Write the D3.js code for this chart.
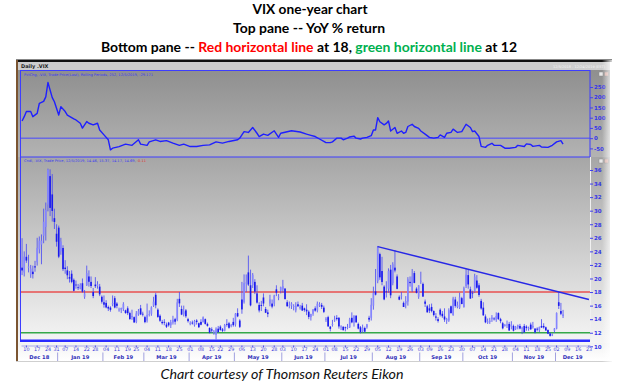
<!DOCTYPE html>
<html>
<head>
<meta charset="utf-8">
<script src="https://cdn.jsdelivr.net/npm/d3@7"></script>
<style>
  body { margin: 0; background: #fff; }
  svg { display: block; }
</style>
</head>
<body>
<script>
// market holidays inside the range (trading-day axis, no gaps)
const holidays = ['2018-12-25', '2019-01-01', '2019-01-21', '2019-02-18', '2019-04-19',
  '2019-05-27', '2019-07-04', '2019-09-02', '2019-11-28'];

// daily candles [open, high, low, close], from 2018-12-06
const ohlcDec18 = [[21.6,25.94,20.5,21.19],[20.9,24.0,20.3,23.23],[23.2,25.1,22.3,22.64],[21.6,23.5,20.9,21.76],
  [20.6,22.0,20.1,21.46],[21.0,21.9,20.0,20.65],[21.8,22.6,21.0,21.63],[22.4,26.0,21.9,24.52],[24.3,26.2,23.7,25.58],
  [25.0,26.5,22.1,25.58],[26.3,30.3,25.2,28.38],[27.6,31.2,25.6,30.11],[30.9,36.2,29.9,36.07],[35.1,36.1,29.2,30.41],
  [32.4,35.4,28.4,29.96],[28.9,30.3,27.3,28.34],[26.6,28.0,24.7,25.42]];
const ohlcJan19 = [[27.5,27.8,23.0,23.22],[24.0,26.0,23.5,25.45],[24.5,24.9,21.1,21.38],[21.6,22.7,20.7,21.40],
  [21.2,21.8,19.9,20.47],[20.2,21.1,19.4,19.98],[20.7,21.2,19.3,19.50],[19.8,20.0,18.1,18.19],[19.1,19.7,18.5,19.07],
  [18.7,19.2,18.3,18.60],[18.5,19.3,18.4,19.04],[19.3,20.0,17.9,18.06],[17.3,18.3,17.0,17.80],[19.0,21.9,18.9,20.80],
  [20.3,21.2,18.8,19.52],[19.5,20.3,18.6,18.89],[18.0,18.6,17.1,17.42],[19.1,20.2,18.6,18.87],[18.9,19.6,18.5,19.13],
  [18.8,19.2,17.4,17.66],[17.3,17.5,16.3,16.57]];
const ohlcFeb19 = [[16.5,17.5,15.7,16.14],[16.4,16.8,15.6,15.73],[15.8,16.0,15.2,15.57],[15.7,15.9,15.1,15.38],
  [16.2,17.5,15.9,16.37],[17.1,17.4,15.6,15.72],[16.3,16.5,15.6,15.97],[15.3,15.7,15.1,15.43],[15.4,15.7,14.9,15.65],
  [15.5,16.5,15.2,16.22],[15.3,15.4,14.8,14.91],[15.6,15.9,14.6,14.88],[14.9,15.1,13.9,14.02],[14.3,15.4,13.9,14.46],
  [14.3,14.4,13.5,13.51],[13.6,15.2,13.4,14.85],[14.7,15.5,14.5,15.17],[15.6,16.1,14.6,14.70],[14.8,15.1,14.4,14.78]];
const ohlcMar19 = [[14.3,14.5,13.4,13.57],[13.8,16.3,13.5,14.63],[14.7,15.3,14.4,14.74],[14.8,15.9,14.5,15.74],
  [16.0,17.3,15.8,16.59],[17.6,17.9,15.6,16.05],[15.4,15.6,14.2,14.33],[14.5,14.7,13.6,13.77],[13.6,13.9,13.2,13.41],
  [13.6,14.0,13.1,13.50],[13.2,13.5,12.7,12.88],[13.5,13.6,12.9,13.10],[13.1,13.9,12.7,13.56],[13.5,14.5,13.2,13.91],
  [14.0,14.2,13.2,13.63],[13.9,17.0,13.7,16.48],[17.0,18.0,15.8,16.33],[15.5,16.0,14.6,14.68],[14.7,16.0,14.4,15.15],
  [15.3,15.5,14.2,14.43],[14.0,14.2,13.5,13.71]];
const ohlcApr19 = [[13.4,13.7,13.1,13.40],[13.5,13.8,13.2,13.36],[13.1,13.9,12.9,13.74],[13.8,14.0,13.2,13.58],
  [13.4,13.5,12.7,12.82],[13.6,14.0,13.1,13.18],[13.6,14.4,13.5,14.28],[14.0,14.1,13.2,13.30],[13.3,13.5,12.9,13.02],
  [12.7,12.8,11.9,12.01],[12.5,12.8,12.0,12.32],[12.0,12.4,11.7,12.18],[11.7,12.8,11.03,12.60],[12.6,13.0,12.0,12.09],
  [12.9,13.1,12.3,12.42],[12.5,12.7,12.1,12.28],[12.3,13.3,12.2,13.14],[13.3,14.0,12.9,13.25],[13.4,13.6,12.6,12.73],
  [13.0,13.3,12.8,13.11],[13.6,14.2,12.9,13.12]];
const ohlcMay19 = [[13.2,14.9,12.9,14.80],[14.9,15.6,14.3,14.42],[13.8,14.0,12.7,12.87],[16.9,19.5,14.8,15.44],
  [16.5,20.6,16.3,19.32],[19.4,20.6,18.0,19.40],[20.9,23.38,18.9,19.10],[19.0,21.3,15.9,16.04],[19.0,20.8,18.6,20.55],
  [19.5,19.9,17.7,18.06],[17.8,19.0,16.3,16.44],[16.1,16.5,15.0,15.29],[16.1,16.7,15.2,15.96],[17.2,17.8,15.9,16.31],
  [15.5,15.8,14.9,14.95],[15.0,15.4,14.3,14.75],[16.3,17.6,15.9,16.92],[16.3,16.9,15.6,15.85],[16.3,17.6,15.9,17.50],
  [18.4,19.0,17.4,17.90],[17.3,17.7,16.8,17.30],[18.2,18.8,17.8,18.71]];
const ohlcJun19 = [[18.4,19.8,17.9,18.86],[18.5,18.6,16.9,16.97],[16.5,16.8,15.8,15.93],[16.0,16.6,15.6,16.09],
  [16.0,16.5,15.5,16.30],[15.9,16.2,15.3,15.94],[15.3,16.5,15.0,15.99],[16.2,16.6,15.8,15.91],[15.6,16.1,15.4,15.82],
  [16.0,16.4,15.2,15.28],[15.6,15.7,15.1,15.35],[15.4,16.2,14.6,15.15],[15.1,15.3,14.0,14.33],[14.3,14.8,13.8,14.75],
  [14.8,15.5,14.5,15.40],[15.6,15.9,15.1,15.26],[15.3,16.6,15.0,16.28],[16.0,16.5,15.8,16.21],[16.1,16.4,15.5,15.82],
  [15.7,16.0,14.9,15.08]];
const ohlcJul19 = [[13.9,14.3,13.6,14.06],[14.3,14.5,12.9,12.93],[12.9,13.0,12.2,12.57],[13.2,13.9,12.9,13.28],
  [13.9,14.5,13.6,13.96],[14.2,14.6,13.8,14.02],[14.2,14.3,12.6,12.93],[12.8,13.1,12.4,12.93],[12.9,12.9,12.3,12.39],
  [12.8,12.9,12.2,12.68],[12.8,13.3,12.5,12.86],[12.8,14.2,12.7,13.97],[14.2,15.0,13.4,13.53],[13.5,14.6,12.9,14.45],
  [14.5,14.6,13.5,13.53],[13.3,13.5,12.5,12.61],[12.8,13.0,11.9,12.07],[12.2,13.2,12.0,12.74],[12.7,12.9,12.0,12.16],
  [12.8,13.3,12.6,13.24],[14.2,14.5,13.6,13.94],[14.2,17.1,13.8,16.12]];
const ohlcAug19 = [[16.0,18.8,15.4,17.87],[18.1,21.4,17.5,17.61],[19.6,24.8,19.3,24.59],[23.6,23.8,19.8,20.17],
  [21.1,23.2,19.0,19.49],[18.8,19.0,16.8,16.91],[18.1,19.6,17.2,17.97],[18.5,21.5,17.9,21.09],[21.3,22.0,17.1,17.52],
  [19.3,22.4,19.0,22.10],[21.6,24.2,20.9,21.18],[20.3,20.6,18.4,18.47],[17.3,17.5,16.8,16.88],[17.4,18.0,16.9,17.50],
  [16.4,16.6,15.8,15.80],[16.3,17.4,15.6,16.68],[16.6,20.2,16.0,19.87],[19.5,20.3,18.8,19.32],[18.2,21.4,18.0,20.31],
  [20.8,21.1,19.3,19.35],[18.5,18.7,17.8,17.88],[17.3,19.0,17.0,18.98]];
const ohlcSep19 = [[19.6,21.0,19.2,19.66],[19.2,19.4,17.3,17.33],[16.6,16.9,15.8,16.27],[15.9,16.1,15.0,15.00],
  [15.6,16.2,14.9,15.27],[15.8,16.3,15.0,15.20],[15.2,15.3,14.4,14.61],[14.4,14.9,13.8,14.22],[14.0,14.3,13.5,13.74],
  [15.4,15.6,14.4,14.67],[14.8,15.2,14.2,14.44],[14.4,15.6,13.6,13.95],[13.8,14.2,13.3,14.05],[13.8,15.6,13.6,15.32],
  [15.9,16.0,14.8,14.91],[14.6,17.3,14.5,17.05],[16.9,17.3,15.7,15.96],[15.8,16.6,15.6,16.07],[15.7,17.9,15.5,17.22],
  [17.1,17.3,16.2,16.24]];
const ohlcOct19 = [[15.8,18.8,15.7,18.56],[18.9,21.46,18.6,20.56],[20.5,21.3,18.5,19.12],[18.4,18.8,17.0,17.04],
  [17.9,18.2,17.1,17.86],[18.1,20.7,17.9,20.28],[19.7,20.5,18.5,18.64],[19.0,19.3,17.3,17.57],[16.7,17.0,15.4,15.58],
  [15.7,16.5,14.5,14.57],[14.4,14.7,13.4,13.54],[13.5,14.1,13.3,13.68],[13.6,14.2,13.3,13.79],[14.0,14.6,13.6,14.25],
  [14.1,14.3,13.8,14.00],[13.9,15.0,13.6,14.46],[14.9,15.0,13.9,14.01],[14.0,14.2,13.4,13.71],[13.4,13.6,12.5,12.65],
  [13.0,13.3,12.9,13.11],[13.2,13.8,12.7,13.20],[13.3,13.6,12.3,12.33],[12.9,13.7,12.5,13.22]];
const ohlcNov19 = [[13.0,13.2,12.2,12.30],[12.6,13.0,12.4,12.83],[12.8,13.2,12.5,13.10],[13.0,13.3,12.5,12.62],
  [12.6,12.9,11.8,12.73],[13.0,13.3,12.0,12.07],[12.9,13.1,12.3,12.69],[12.6,12.9,12.3,12.68],[13.2,13.5,12.4,12.52],
  [12.8,13.6,12.6,13.00],[12.6,12.7,11.9,12.05],[12.6,12.8,12.2,12.46],[12.4,12.9,12.1,12.86],[13.0,14.0,12.7,12.78],
  [13.0,13.4,12.6,12.78],[12.8,12.9,12.3,12.34],[12.4,12.5,11.8,11.87],[11.9,12.0,11.43,11.54],[11.6,11.9,11.5,11.75],
  [12.3,12.7,12.0,12.62]];
const ohlcDec19 = [[12.6,15.0,12.5,14.91],[16.5,17.99,15.5,15.96],[15.2,16.4,14.6,14.80],[14.46,15.37,14.17,14.69]];

// top pane: YoY % change (252 periods)
const yoyPart1 = [['2018-12-06',84],['2018-12-07',105],['2018-12-10',130],['2018-12-12',130],['2018-12-13',105],
  ['2018-12-17',121],['2018-12-18',170],['2018-12-20',180],['2018-12-21',202],['2018-12-24',272],['2018-12-27',198],
  ['2018-12-28',178],['2019-01-02',113],['2019-01-03',154],['2019-01-07',130],['2019-01-08',113],['2019-01-11',94],
  ['2019-01-14',89],['2019-01-16',73],['2019-01-17',49],['2019-01-22',81],['2019-01-23',73],['2019-01-25',65],
  ['2019-01-29',73],['2019-01-30',40],['2019-02-01',16],['2019-02-05',-8],['2019-02-06',-57],['2019-02-07',-49],
  ['2019-02-12',-41],['2019-02-15',-29],['2019-02-21',-35],['2019-02-26',-8],['2019-02-27',-29],['2019-03-04',-35],
  ['2019-03-05',-18],['2019-03-08',-8],['2019-03-12',-16],['2019-03-15',-12],['2019-03-20',-24],['2019-03-25',-35],
  ['2019-03-27',-29],['2019-04-01',-41],['2019-04-04',-41],['2019-04-09',-35],['2019-04-12',-33],['2019-04-17',-18],
  ['2019-04-23',-24],['2019-04-26',-16],['2019-05-02',-8],['2019-05-03',0],['2019-05-07',32],['2019-05-09',28],
  ['2019-05-13',52],['2019-05-15',24],['2019-05-16',8],['2019-05-20',20],['2019-05-22',14],['2019-05-28',36],
  ['2019-05-30',4],['2019-05-31',24],['2019-06-07',36],['2019-06-13',30],['2019-06-18',20],['2019-06-20',14],
  ['2019-06-24',8],['2019-06-26',-4],['2019-06-28',-16]];
const yoyPart2 = [['2019-07-01',-22],['2019-07-03',-22],['2019-07-05',-18],['2019-07-09',0],['2019-07-11',0],
  ['2019-07-12',-8],['2019-07-16',0],['2019-07-17',6],['2019-07-19',10],['2019-07-22',0],['2019-07-24',-4],
  ['2019-07-25',0],['2019-07-29',4],['2019-07-31',12],['2019-08-01',40],['2019-08-02',40],['2019-08-05',100],
  ['2019-08-06',80],['2019-08-08',65],['2019-08-09',72],['2019-08-12',84],['2019-08-13',35],['2019-08-15',52],
  ['2019-08-16',24],['2019-08-20',35],['2019-08-21',24],['2019-08-22',28],['2019-08-23',57],['2019-08-27',68],
  ['2019-08-28',57],['2019-08-30',48],['2019-09-03',35],['2019-09-05',20],['2019-09-09',4],['2019-09-11',0],
  ['2019-09-13',4],['2019-09-16',16],['2019-09-18',4],['2019-09-19',24],['2019-09-23',28],['2019-09-24',44],
  ['2019-09-26',28],['2019-09-30',32],['2019-10-02',68],['2019-10-04',52],['2019-10-07',32],['2019-10-08',35],
  ['2019-10-10',8],['2019-10-11',-40],['2019-10-15',-45],['2019-10-16',-35],['2019-10-18',-25],['2019-10-21',-35],
  ['2019-10-24',-35],['2019-10-28',-49],['2019-10-30',-49],['2019-11-04',-45],['2019-11-05',-35],['2019-11-08',-41],
  ['2019-11-11',-28],['2019-11-13',-31],['2019-11-14',-40],['2019-11-19',-35],['2019-11-20',-43],['2019-11-25',-45],
  ['2019-11-27',-35],['2019-12-02',-18],['2019-12-04',-12],['2019-12-05',-29]];

const trendLine = [['2019-08-05', 24.7], ['2019-12-23', 16.9]];
const redLevel = 18;
const greenLevel = 12;
const topTicks = [-50, 0, 50, 100, 150, 200, 250];
const bottomTicks = [10, 12, 14, 16, 18, 20, 22, 24, 26, 28, 30, 32, 34, 36];

const topLabel = 'PctChg, .VIX, Trade Price(Last), Rolling Periods, 252, 12/5/2019, -29.171';
const bottomLabel = 'Cndl, .VIX, Trade Price, 12/5/2019, 14.46, 15.37, 14.17, 14.69, ';
const bottomChange = '-0.11';

// trading days on the axis
const fmt = d3.utcFormat('%Y-%m-%d');
const days = d3.utcDay.range(new Date(Date.UTC(2018, 11, 6)), new Date(Date.UTC(2019, 11, 24)))
  .filter(d => d.getUTCDay() !== 0 && d.getUTCDay() !== 6 && !holidays.includes(fmt(d)))
  .map(fmt);

const candles = [].concat(ohlcDec18, ohlcJan19, ohlcFeb19, ohlcMar19, ohlcApr19, ohlcMay19, ohlcJun19,
  ohlcJul19, ohlcAug19, ohlcSep19, ohlcOct19, ohlcNov19, ohlcDec19)
  .map((d, i) => ({date: days[i], o: d[0], h: d[1], l: d[2], c: d[3]}));
const yoy = yoyPart1.concat(yoyPart2).map(d => ({date: d[0], v: d[1]}));

const svg = d3.select(document.body).append('svg')
  .attr('width', 620).attr('height', 390)
  .style('font-family', 'Lato, "DejaVu Sans", sans-serif');

const defs = svg.append('defs');
function grad(id, c1, c2, vertical) {
  const g = defs.append('linearGradient').attr('id', id)
    .attr('x1', 0).attr('y1', 0).attr('x2', vertical ? 0 : 1).attr('y2', vertical ? 1 : 0);
  g.append('stop').attr('offset', '0%').attr('stop-color', c1[0]).attr('stop-opacity', c1[1]);
  g.append('stop').attr('offset', '100%').attr('stop-color', c2[0]).attr('stop-opacity', c2[1]);
}
grad('gTop', ['#8f8f8f', 1], ['#b3b3b3', 1], true);
grad('gBot', ['#a6a6a6', 1], ['#f5f5f5', 1], true);
grad('gAxis', ['#f2f2f2', 1], ['#ffffff', 1], true);
grad('gFade', ['#ffffff', 0], ['#ffffff', 1], false);

defs.append('clipPath').attr('id', 'clipTop').append('rect')
  .attr('x', 21).attr('y', 71).attr('width', 569).attr('height', 85);
defs.append('clipPath').attr('id', 'clipBot').append('rect')
  .attr('x', 21).attr('y', 158).attr('width', 569).attr('height', 182);

// titles
const titles = svg.append('g').attr('text-anchor', 'middle').attr('font-weight', 'bold').attr('font-size', 13);
titles.append('text').attr('x', 310).attr('y', 14).attr('textLength', 115)
  .attr('lengthAdjust', 'spacingAndGlyphs').text('VIX one-year chart');
titles.append('text').attr('x', 309).attr('y', 33).attr('textLength', 152)
  .attr('lengthAdjust', 'spacingAndGlyphs').text('Top pane -- YoY % return');
const t3 = titles.append('text').attr('x', 309).attr('y', 52).attr('textLength', 416)
  .attr('lengthAdjust', 'spacingAndGlyphs');
t3.append('tspan').text('Bottom pane -- ');
t3.append('tspan').attr('fill', '#ff0000').text('Red horizontal line');
t3.append('tspan').text(' at 18, ');
t3.append('tspan').attr('fill', '#00b050').text('green horizontal line');
t3.append('tspan').text(' at 12');

// screenshot frame and backgrounds
svg.append('rect').attr('x', 18).attr('y', 62).attr('width', 592).attr('height', 8).attr('fill', '#cdcdcd');
svg.append('rect').attr('x', 18).attr('y', 70).attr('width', 592).attr('height', 87).attr('fill', 'url(#gTop)');
svg.append('rect').attr('x', 18).attr('y', 157).attr('width', 592).attr('height', 186).attr('fill', 'url(#gBot)');
svg.append('rect').attr('x', 18).attr('y', 343).attr('width', 592).attr('height', 18).attr('fill', 'url(#gAxis)');
svg.append('rect').attr('x', 16).attr('y', 59.5).attr('width', 596).attr('height', 2.5).attr('fill', '#111');
svg.append('rect').attr('x', 16).attr('y', 60).attr('width', 2).attr('height', 301).attr('fill', '#7b5532');
svg.append('line').attr('x1', 16).attr('x2', 612).attr('y1', 361.5).attr('y2', 361.5)
  .attr('stroke', '#cfcfcf');

svg.append('text').attr('x', 21).attr('y', 68).attr('font-size', 5).attr('font-weight', 'bold')
  .attr('font-family', '"DejaVu Sans"').attr('fill', '#222').text('Daily .VIX');
svg.append('text').attr('x', 553).attr('y', 68).attr('font-size', 3.5)
  .attr('font-family', '"DejaVu Sans"').attr('fill', '#f4f4f4').text('12/5/2018 - 12/24/2019 (EST)');

// scales
const x = d3.scaleBand().domain(days).range([21, 590]);
const xc = d => x(d) + x.bandwidth() / 2;
const yTop = d3.scaleLinear().domain([-50, 250]).range([148.4, 87]);
const yBot = d3.scaleLinear().domain([10, 36]).range([346.3, 170]);

// pane borders
svg.append('rect').attr('x', 20.5).attr('y', 70.5).attr('width', 569.5).attr('height', 86.5)
  .attr('fill', 'none').attr('stroke', '#3d3dff');
svg.append('line').attr('x1', 20.5).attr('x2', 20.5).attr('y1', 157).attr('y2', 341)
  .attr('stroke', '#3d3dff');
svg.append('line').attr('x1', 590.5).attr('x2', 590.5).attr('y1', 157).attr('y2', 341)
  .attr('stroke', '#f0f0f0');

// top pane
svg.append('text').attr('x', 24).attr('y', 75.5).attr('font-size', 3.6).attr('font-family', '"DejaVu Sans"')
  .attr('fill', '#3a3af0').text(topLabel);
const topG = svg.append('g').attr('clip-path', 'url(#clipTop)');
topG.append('line').attr('x1', 21).attr('x2', 590).attr('y1', yTop(0)).attr('y2', yTop(0))
  .attr('stroke', '#4646ff').attr('stroke-width', 1);
topG.append('path').datum(yoy.filter(d => x(d.date) !== undefined))
  .attr('fill', 'none').attr('stroke', '#1f1fff').attr('stroke-width', 1.4).attr('stroke-linejoin', 'round')
  .attr('d', d3.line().x(d => xc(d.date)).y(d => yTop(d.v)));

const gyTop = svg.append('g').attr('transform', 'translate(590,0)')
  .call(d3.axisRight(yTop).tickValues(topTicks).tickSize(3).tickPadding(1).tickFormat(d => String(d)));
gyTop.select('.domain').remove();

// bottom pane label, the change value in red
const lab = svg.append('text').attr('x', 24).attr('y', 161.5).attr('font-size', 3.6)
  .attr('font-family', '"DejaVu Sans"').attr('fill', '#3a3af0');
lab.append('tspan').text(bottomLabel);
lab.append('tspan').attr('fill', '#e03030').text(bottomChange);

const botG = svg.append('g').attr('clip-path', 'url(#clipBot)');
botG.append('line').attr('x1', 21).attr('x2', 590).attr('y1', yBot(redLevel)).attr('y2', yBot(redLevel))
  .attr('stroke', '#e85050').attr('stroke-width', 1.5);
botG.append('line').attr('x1', 21).attr('x2', 590).attr('y1', yBot(greenLevel)).attr('y2', yBot(greenLevel))
  .attr('stroke', '#36a84a').attr('stroke-width', 1.5);

const cg = botG.append('g').selectAll('g').data(candles.filter(d => d.date)).enter().append('g');
cg.append('line')
  .attr('x1', d => xc(d.date)).attr('x2', d => xc(d.date))
  .attr('y1', d => yBot(d.h)).attr('y2', d => yBot(d.l))
  .attr('stroke', '#4545f5').attr('stroke-width', 0.8);
cg.append('rect')
  .attr('x', d => xc(d.date) - x.bandwidth() * 0.38)
  .attr('width', x.bandwidth() * 0.76)
  .attr('y', d => yBot(Math.max(d.o, d.c)))
  .attr('height', d => Math.max(0.8, Math.abs(yBot(d.o) - yBot(d.c))))
  .attr('fill', d => d.c >= d.o ? '#8585ff' : '#1a1aee');

botG.append('path').datum(trendLine)
  .attr('fill', 'none').attr('stroke', '#2727e6').attr('stroke-width', 1.5)
  .attr('d', d3.line().x(d => xc(d[0])).y(d => yBot(d[1])));

// thick bottom rule of the price pane
svg.append('line').attr('x1', 20).attr('x2', 590).attr('y1', 340.8).attr('y2', 340.8)
  .attr('stroke', '#2a2aff').attr('stroke-width', 2.6);

const gyBot = svg.append('g').attr('transform', 'translate(590,0)')
  .call(d3.axisRight(yBot).tickValues(bottomTicks).tickSize(3).tickPadding(1).tickFormat(d => String(d)));
gyBot.select('.domain').remove();

[gyTop, gyBot].forEach(g => {
  g.selectAll('.tick line').attr('stroke', '#4040f0');
  g.selectAll('text').attr('fill', '#3636e6').attr('font-size', 5.5).attr('font-weight', 'bold')
    .attr('font-family', '"DejaVu Sans"');
});

// x axis: first trading day of each week, months underneath
const wk = s => d3.utcMonday.floor(new Date(s)).getTime();
const weekStarts = days.filter((d, i) => i > 0 && wk(d) !== wk(days[i - 1]));
const gx = svg.append('g').attr('transform', 'translate(0,345.5)')
  .call(d3.axisBottom(x).tickValues(weekStarts).tickSize(2).tickSizeOuter(0).tickPadding(0.5)
    .tickFormat(d => d.slice(8)));
gx.select('.domain').attr('stroke', '#a8a8e8');
gx.selectAll('.tick line').attr('stroke', '#5050e8');
gx.selectAll('text').attr('fill', '#3c3cd8').attr('font-size', 4.8).attr('font-family', '"DejaVu Sans"');

const months = d3.groups(days, d => d.slice(0, 7));
const monthFmt = d3.utcFormat('%b %y');
const mg = svg.append('g');
mg.selectAll('line').data(months.slice(1)).enter().append('line')
  .attr('x1', d => x(d[1][0])).attr('x2', d => x(d[1][0]))
  .attr('y1', 352.5).attr('y2', 361)
  .attr('stroke', '#8a8ad8').attr('stroke-width', 0.8);
mg.selectAll('text').data(months).enter().append('text')
  .attr('x', d => (x(d[1][0]) + x(d[1][d[1].length - 1]) + x.bandwidth()) / 2)
  .attr('y', 359).attr('text-anchor', 'middle')
  .attr('font-size', 5.2).attr('font-weight', 'bold').attr('font-family', '"DejaVu Sans"')
  .attr('fill', '#2f2fb8')
  .text(d => monthFmt(new Date(d[0] + '-01')));

// small pane buttons at top right
[72, 159].forEach(y0 => {
  svg.append('rect').attr('x', 599).attr('y', y0).attr('width', 4).attr('height', 4)
    .attr('fill', '#e8e8e8').attr('stroke', '#8a8a8a').attr('stroke-width', 0.5);
  svg.append('rect').attr('x', 604.5).attr('y', y0).attr('width', 4).attr('height', 4)
    .attr('fill', '#d9b0a8').attr('stroke', '#8a8a8a').attr('stroke-width', 0.5);
});

// fade on the right edge of the screenshot
svg.append('rect').attr('x', 602).attr('y', 60).attr('width', 12).attr('height', 302).attr('fill', 'url(#gFade)');

// caption
svg.append('text').attr('x', 282).attr('y', 379).attr('text-anchor', 'middle')
  .attr('font-style', 'italic').attr('font-size', 13).attr('fill', '#111')
  .attr('textLength', 243).attr('lengthAdjust', 'spacingAndGlyphs')
  .text('Chart courtesy of Thomson Reuters Eikon');
</script>
</body>
</html>
